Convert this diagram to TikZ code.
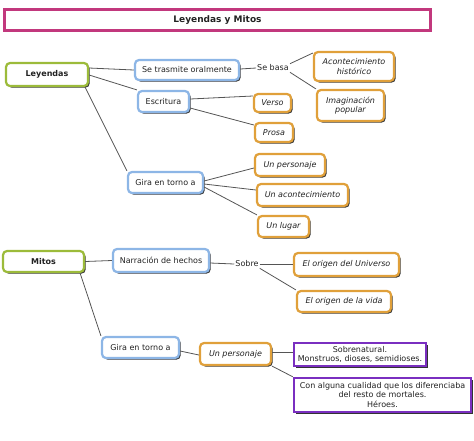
\documentclass[tikz,border=0pt]{standalone}
\usepackage{fontspec}
\setmainfont{DejaVu Sans}
\usetikzlibrary{shadows}
\definecolor{bluec}{HTML}{8DB6E6}
\definecolor{orangec}{HTML}{E0A03A}
\definecolor{greenc}{HTML}{9CBB3A}
\definecolor{purplec}{HTML}{7A2FC0}
\definecolor{magc}{HTML}{C2387D}
\definecolor{linec}{HTML}{555555}
\definecolor{txtc}{HTML}{222222}
\tikzset{
  boxbase/.style={line width=2.2pt, font=\fontsize{8}{9.3}\selectfont, text=txtc, align=center, fill=white, inner sep=0.5pt,
     drop shadow={shadow xshift=1.6pt, shadow yshift=-1.6pt, fill=black!80, opacity=1}},
  bluebox/.style={boxbase, rounded corners=4pt, draw=bluec},
  orangebox/.style={boxbase, rounded corners=4pt, draw=orangec, font=\fontsize{8}{9.3}\selectfont\itshape},
  greenbox/.style={boxbase, rounded corners=4pt, draw=greenc, font=\fontsize{8}{9.3}\selectfont\bfseries},
  purplebox/.style={boxbase, draw=purplec, line width=2.4pt,
     drop shadow={shadow xshift=1.2pt, shadow yshift=-1.2pt, fill=black!45, opacity=1}},
  plain/.style={font=\fontsize{8}{9.3}\selectfont, text=txtc, inner sep=1pt},
  conn/.style={draw=linec, line width=0.8pt},
}
\begin{document}
\begin{tikzpicture}[x=1pt,y=-1pt]
\useasboundingbox (0,0) rectangle (474,440);
% title
\node[draw=magc, line width=3pt, minimum width=426pt, minimum height=21pt, font=\fontsize{9}{10}\selectfont\bfseries, text=txtc] (title) at (217.5,20) {Leyendas y Mitos};
% Leyendas branch
\node[greenbox, minimum width=82pt, minimum height=23pt] (ley) at (47,74.5) {Leyendas};
\node[bluebox, minimum width=104pt, minimum height=20pt] (tras) at (187,70) {Se trasmite oralmente};
\node[plain] (sebasa) at (273,68) {Se basa};
\node[orangebox, minimum width=80pt, minimum height=29pt] (acont) at (354,66.5) {Acontecimiento\\histórico};
\node[orangebox, minimum width=67pt, minimum height=31pt] (imag) at (350.5,105.5) {Imaginación\\popular};
\node[bluebox, minimum width=51pt, minimum height=21pt] (escr) at (163.5,101.5) {Escritura};
\node[orangebox, minimum width=37pt, minimum height=18pt] (verso) at (272.5,103) {Verso};
\node[orangebox, minimum width=38pt, minimum height=19pt] (prosa) at (274,132.5) {Prosa};
\node[bluebox, minimum width=75pt, minimum height=21pt] (gira1) at (165.5,182.5) {Gira en torno a};
\node[orangebox, minimum width=70pt, minimum height=22pt] (unpers) at (290,165) {Un personaje};
\node[orangebox, minimum width=91pt, minimum height=22pt] (unacont) at (302.5,195) {Un acontecimiento};
\node[orangebox, minimum width=51pt, minimum height=21pt] (unlugar) at (283.5,226.5) {Un lugar};
% Mitos branch
\node[greenbox, minimum width=81pt, minimum height=21pt] (mitos) at (43.5,261.5) {Mitos};
\node[bluebox, minimum width=96pt, minimum height=23pt] (narr) at (161,260.5) {Narración de hechos};
\node[plain] (sobre) at (247,264) {Sobre};
\node[orangebox, minimum width=105pt, minimum height=23pt] (univ) at (346.5,264.5) {El origen del Universo};
\node[orangebox, minimum width=94pt, minimum height=21pt] (vida) at (344,301.5) {El origen de la vida};
\node[bluebox, minimum width=77pt, minimum height=21pt] (gira2) at (140.5,347.5) {Gira en torno a};
\node[orangebox, minimum width=71pt, minimum height=22pt] (unpers2) at (235.5,354) {Un personaje};
\node[purplebox, minimum width=132pt, minimum height=23pt] (sobren) at (360,354.5) {Sobrenatural.\\Monstruos, dioses, semidioses.};
\node[purplebox, minimum width=177pt, minimum height=34pt] (conalg) at (382.5,395) {Con alguna cualidad que los diferenciaba\\del resto de mortales.\\Héroes.};
% connectors
\draw[conn] (ley.east |- 0,68) -- (tras.west |- 0,70);
\draw[conn] (ley.east |- 0,75) -- (escr.north west);
\draw[conn] (ley.south east) ++(-4,0) coordinate (l1) (l1) -- (gira1.north west);
\draw[conn] (tras.east |- 0,69) -- (sebasa.west);
\draw[conn] (sebasa.north east) -- (acont.west |- 0,53);
\draw[conn] (sebasa.south east) -- (imag.north west);
\draw[conn] (escr.east |- 0,99) -- (verso.west |- 0,96);
\draw[conn] (escr.east |- 0,108) -- (prosa.west |- 0,125);
\draw[conn] (gira1.east |- 0,181) -- (unpers.west |- 0,168);
\draw[conn] (gira1.east |- 0,184) -- (unacont.west |- 0,190);
\draw[conn] (gira1.east |- 0,187) -- (unlugar.north west);
\draw[conn] (mitos.east) -- (narr.west);
\draw[conn] (mitos.south east) ++(-5,0) coordinate (m1) (m1) -- (gira2.north west);
\draw[conn] (narr.east |- 0,263) -- (sobre.west);
\draw[conn] (sobre.east) -- (univ.west |- 0,264);
\draw[conn] (sobre.south east) -- (vida.north west);
\draw[conn] (gira2.east |- 0,351) -- (unpers2.west |- 0,355);
\draw[conn] (unpers2.east |- 0,352) -- (sobren.west |- 0,352);
\draw[conn] (unpers2.south east) -- (conalg.north west);
\end{tikzpicture}
\end{document}
